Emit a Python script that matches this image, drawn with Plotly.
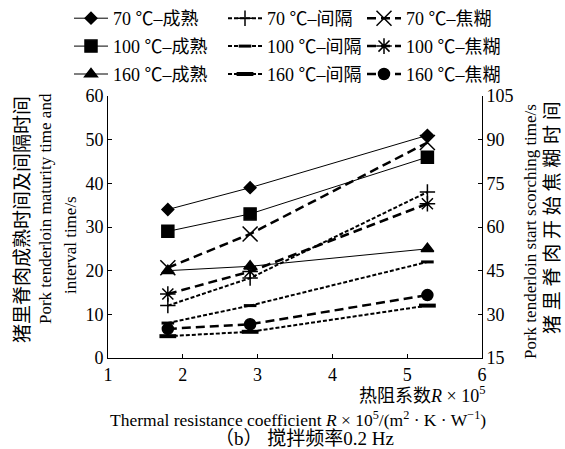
import plotly.graph_objects as go

x_vals = [1.8, 2.9, 5.27]

mature_70 = [34, 39, 51]
mature_100 = [29, 33, 46]
mature_160 = [20, 21, 25]

interval_70 = [12, 18.3, 38]
interval_100 = [8, 12, 22]
interval_160 = [5, 6, 12]

scorch_70 = [46, 57.6, 89]
scorch_100 = [37, 44.7, 68]
scorch_160 = [25, 26.6, 36.6]

x_ticks = [1, 2, 3, 4, 5, 6]
y_ticks = [0, 10, 20, 30, 40, 50, 60]
y2_ticks = [15, 30, 45, 60, 75, 90, 105]

FONT = "Liberation Serif, Times New Roman, Noto Sans CJK SC, serif"
BLACK = "#000000"

fig = go.Figure()

def add(name, y, symbol, msize, dash, lw, legend, group, yaxis="y", mlw=1.5):
    fig.add_trace(go.Scatter(
        x=x_vals, y=y, name=name, mode="lines+markers",
        line=dict(color=BLACK, width=lw, dash=dash),
        marker=dict(symbol=symbol, size=msize, color=BLACK,
                    line=dict(color=BLACK, width=mlw)),
        legend=legend, legendgroup=group, yaxis=yaxis,
    ))

add("70 ℃–成熟", mature_70, "diamond", 9, "solid", 1, "legend", "a1")
add("100 ℃–成熟", mature_100, "square", 12, "solid", 1, "legend", "a2")
add("160 ℃–成熟", mature_160, "triangle-up", 11, "solid", 1, "legend", "a3")

add("70 ℃–间隔", interval_70, "cross-thin-open", 11, "4px,2px", 2, "legend2", "b1")
add("100 ℃–间隔", interval_100, "line-ew-open", 9, "4px,2px", 2, "legend2", "b2", mlw=3)
add("160 ℃–间隔", interval_160, "line-ew-open", 12, "4px,2px", 2, "legend2", "b3", mlw=4)

add("70 ℃–焦糊", scorch_70, "x-thin-open", 15, "9px,5px", 2.5, "legend3", "c1", yaxis="y2")
add("100 ℃–焦糊", scorch_100, "asterisk-open", 13, "9px,5px", 2.5, "legend3", "c2", yaxis="y2")
add("160 ℃–焦糊", scorch_160, "circle", 11, "9px,5px", 2.5, "legend3", "c3", yaxis="y2")

L, R, T, B = 108, 83, 96, 91
W, H = 565, 449
pw, ph = W - L - R, H - T - B

def px_x(p):
    return (p - L) / pw

def px_y(p):
    return (H - B - p) / ph

leg_common = dict(orientation="v", yanchor="top", xanchor="left",
                  xref="container", yref="container",
                  font=dict(family=FONT, size=18, color=BLACK),
                  bgcolor="rgba(0,0,0,0)", borderwidth=0,
                  itemwidth=34, tracegroupgap=1.5, itemclick=False)

axis_common = dict(showline=True, linecolor=BLACK, linewidth=1,
                   ticks="inside", ticklen=4, tickcolor=BLACK,
                   tickfont=dict(family=FONT, size=18, color=BLACK),
                   showgrid=False, zeroline=False, automargin=False)

fig.update_layout(
    width=W, height=H,
    margin=dict(l=L, r=R, t=T, b=B, pad=0, autoexpand=False),
    paper_bgcolor="white", plot_bgcolor="white",
    font=dict(family=FONT, color=BLACK),
    showlegend=True,
    legend=dict(x=69 / W, y=1 + 4 / H, **leg_common),
    legend2=dict(x=223 / W, y=1 + 4 / H, **leg_common),
    legend3=dict(x=362 / W, y=1 + 4 / H, **leg_common),
    xaxis=dict(range=[1, 6], tickvals=x_ticks, **axis_common),
    yaxis=dict(range=[0, 60], tickvals=y_ticks, **axis_common),
    yaxis2=dict(range=[15, 105], tickvals=y2_ticks, overlaying="y",
                side="right", **axis_common),
)

ann = [
    dict(text="猪里脊肉成熟时间及间隔时间", x=px_x(22), y=px_y(220), size=19),
    dict(text="Pork tenderloin maturity time and", x=px_x(45), y=px_y(209), size=17),
    dict(text="interval time/s", x=px_x(70), y=px_y(245), size=17),
    dict(text="Pork tenderloin start scorching time/s", x=px_x(530), y=px_y(232), size=17),
    dict(text="猪 里 脊 肉 开 始 焦 糊 时 间", x=px_x(552), y=px_y(218), size=19),
]
for a in ann:
    fig.add_annotation(text=a["text"], x=a["x"], y=a["y"], xref="paper", yref="paper",
                       xanchor="center", yanchor="middle", textangle=-90, showarrow=False,
                       font=dict(family=FONT, size=a["size"], color=BLACK))

fig.add_annotation(text="热阻系数<i>R</i> × 10<sup>5</sup>", x=px_x(487), y=px_y(394),
                   xref="paper", yref="paper", xanchor="right", yanchor="middle",
                   showarrow=False, font=dict(family=FONT, size=18, color=BLACK))
fig.add_annotation(text="Thermal resistance coefficient <i>R</i> × 10<sup>5</sup>/(m<sup>2</sup> · K · W<sup>−1</sup>)",
                   x=px_x(488), y=px_y(419), xref="paper", yref="paper",
                   xanchor="right", yanchor="middle", showarrow=False,
                   font=dict(family=FONT, size=17.5, color=BLACK))
fig.add_annotation(text="（b） 搅拌频率0.2 Hz", x=px_x(304), y=px_y(438),
                   xref="paper", yref="paper", xanchor="center", yanchor="middle",
                   showarrow=False, font=dict(family=FONT, size=19, color=BLACK))

fig.write_html("out.html", post_script="document.body.style.margin='0';",
               config={"displayModeBar": False})
